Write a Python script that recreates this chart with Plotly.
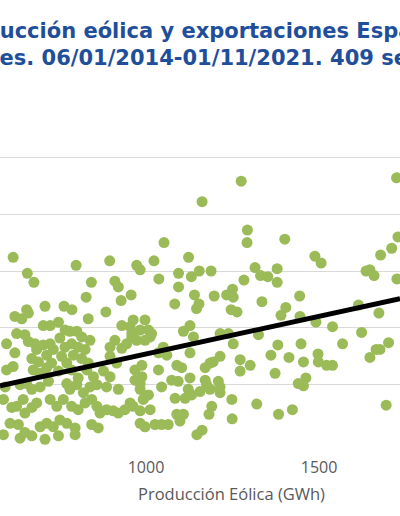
import plotly.graph_objects as go

# Producción eólica semanal (GWh) y exportaciones semanales
produccion_eolica = [
    1275, 1162, 1724, 1293, 1292, 1052, 1401,
    616, 657, 676, 575, 798, 842, 827, 895, 910, 920, 928, 957, 973, 983, 1023, 1123, 1094, 1131,
    1154, 1188, 1037, 1094, 1140, 1197, 1233, 1250, 1252, 1283, 1315, 1331, 1335, 1083, 1153, 1146,
    1246, 1263, 1488, 1506, 1379, 1352, 1379, 1404, 1390, 1444, 1636, 1647, 1659, 1678, 1710, 1728,
    1725, 1614, 1673, 1445, 1491, 1539, 1623, 1381, 1361, 1413, 1448, 1455, 1497, 1498, 1522, 1539,
    1568, 1647, 1665, 1676, 1701, 1373, 1440, 1455, 1462, 1383, 1423, 1694, 1320, 1249, 1248, 1162,
    1190, 1182,
    963, 997, 983, 1007, 1016, 959, 973, 997, 1012, 1108, 1127, 1137, 1214, 1238, 1252, 1325, 1036,
    1050, 1060, 1127, 988, 968, 1036, 1089, 1103, 1171, 1185, 1194, 1214, 1272, 1301, 1272, 968, 988,
    983, 1045, 1074, 1093, 1127, 1171, 1175, 1209, 1214, 983, 997, 992, 1007, 1122, 1132, 1156, 1185,
    1214, 1084, 1113, 954, 963, 983, 1012, 1089, 1108, 1098, 983, 997, 1026, 1045, 1064, 1147,
    655, 708, 763, 786, 884, 621, 641, 660, 833, 703, 723, 747, 766, 780, 800, 814, 930, 954, 597,
    626, 650, 621, 660, 679, 684, 703, 723, 732, 751, 766, 785, 804, 824, 838, 896, 910, 930, 944,
    959, 670, 689, 713, 727, 756, 771, 790, 814, 833, 896, 915, 575, 597, 616, 674, 694, 713, 747,
    785, 804, 829, 848, 877, 896, 575, 593, 636, 655, 670, 694, 718, 771, 780, 800, 819, 838, 858,
    886, 920, 588, 612, 626, 645, 650, 670, 684, 723, 742, 761, 785, 804, 824, 843, 858, 867, 886,
    905, 920, 939, 575, 607, 631, 694, 713, 732, 751, 771, 795, 843, 862, 588, 636, 650, 670, 708,
    747, 795,
]
exportaciones = [
    229, 211, 232, 186, 175, 175, 178,
    162, 148, 140, 138, 155, 140, 127, 159, 141, 136, 124, 129, 155, 151, 159, 162, 148, 145,
    150, 150, 143, 136, 129, 128, 129, 134, 127, 142, 153, 146, 123, 121, 121, 117,
    116, 114, 163, 157, 152, 145, 140, 118, 111, 128, 150, 151, 146, 164, 170, 180,
    143, 120, 113, 110, 105, 101, 96, 85, 76, 74, 86, 70, 77, 70, 67, 67,
    86, 74, 81, 81, 87, 60, 51, 49, 56, 24, 28, 32, 33, 20, 37, 10,
    31, 24,
    107, 107, 98, 98, 95, 95, 89, 89, 92, 97, 102, 92, 95, 95, 86, 94, 78,
    83, 76, 78, 67, 63, 63, 67, 65, 65, 69, 70, 75, 72, 67, 62, 54, 57,
    51, 48, 54, 53, 56, 54, 50, 53, 48, 46, 40, 37, 41, 46, 41, 44, 46,
    43, 38, 38, 34, 31, 27, 28, 24, 24, 18, 16, 13, 15, 15, 15, 6,
    116, 119, 119, 116, 114, 110, 108, 113, 108, 102, 102, 105, 98, 97, 97, 92, 102, 101, 86,
    95, 94, 78, 88, 86, 81, 85, 86, 81, 91, 83, 86, 83, 81, 89, 83, 89, 82, 86,
    92, 73, 70, 76, 69, 75, 69, 76, 73, 69, 75, 69, 66, 63, 66, 63, 60, 65, 62,
    63, 56, 63, 57, 62, 57, 54, 48, 50, 51, 46, 48, 53, 51, 46, 50, 43, 48, 50,
    48, 46, 37, 30, 31, 37, 25, 30, 34, 37, 31, 37, 31, 28, 34, 37, 31, 25, 28,
    27, 25, 28, 22, 16, 15, 13, 16, 13, 19, 16, 12, 15, 12, 6, 3, 8, 5, 2,
    5, 6,
]

# Línea de tendencia lineal (pendiente y ordenada)
tendencia_pendiente = 0.0664
tendencia_ordenada = 10.6

x_rango = [578, 1734]
y_ticks = [0, 50, 100, 150, 200, 250, 300]
x_ticks = [1000, 1500]

titulo = ("Producción eólica y exportaciones España<br>"
          "semanales. 06/01/2014-01/11/2021. 409 semanas")

fig = go.Figure()

fig.add_trace(go.Scatter(
    x=produccion_eolica,
    y=exportaciones,
    mode="markers",
    marker=dict(color="#9bbb59", size=11, line=dict(width=0)),
    cliponaxis=False,
    showlegend=False,
))

tx = x_rango
ty = [tendencia_pendiente * v + tendencia_ordenada for v in tx]
fig.add_trace(go.Scatter(
    x=tx, y=ty, mode="lines",
    line=dict(color="#000000", width=5),
    showlegend=False,
))

fig.update_layout(
    width=400, height=516,
    paper_bgcolor="white", plot_bgcolor="white",
    margin=dict(l=0, r=0, t=100, b=74),
    title=dict(
        text=titulo,
        x=193 / 400, xanchor="center",
        y=1 - 37.5 / 516, yanchor="top",
        font=dict(family="DejaVu Sans", size=21, color="#1f4e9b", weight="bold"),
    ),
    font=dict(family="Open Sans", color="#595959"),
    xaxis=dict(
        range=x_rango,
        tickvals=x_ticks,
        showgrid=False, zeroline=False, showline=False,
        tickfont=dict(size=16, color="#595959"),
        ticklabelstandoff=14,
    ),
    yaxis=dict(
        range=[-0.4, 300.4],
        tickvals=y_ticks,
        showticklabels=False,
        showgrid=True, gridcolor="#d9d9d9", gridwidth=1,
        zeroline=False, showline=False,
    ),
    annotations=[dict(
        text="Producción Eólica (GWh)",
        xref="paper", yref="paper",
        x=232 / 400, y=-(493 - 442) / 342,
        xanchor="center", yanchor="middle",
        showarrow=False,
        font=dict(size=16.5, color="#595959"),
    )],
)

# quitar el margen por defecto del body para que la figura ocupe toda la ventana
fig.write_html(
    "out.html",
    config={"displayModeBar": False},
    post_script="document.body.style.margin='0px';",
)
